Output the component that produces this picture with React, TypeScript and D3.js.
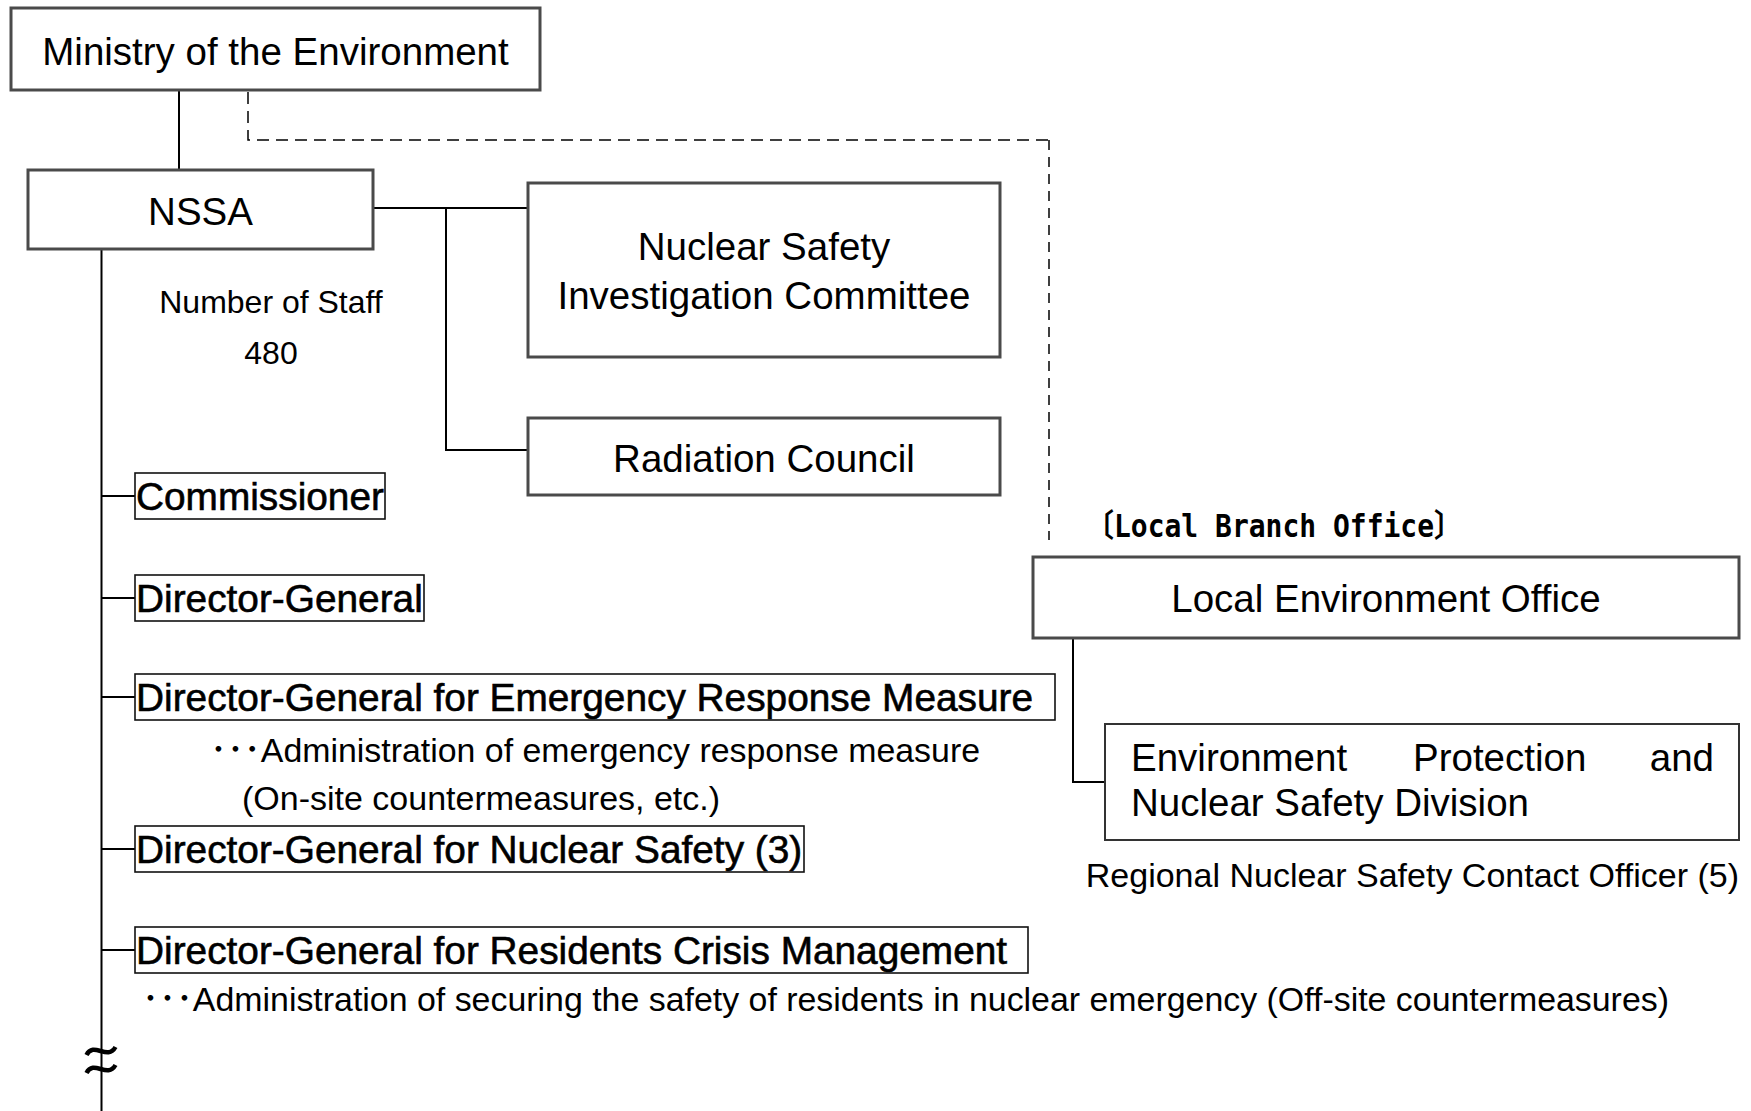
import React, { useEffect, useRef } from "react";
import * as d3 from "d3";

// labels of the chart
const topUnits = ["Ministry of the Environment", "NSSA"];
const councils = [["Nuclear Safety", "Investigation Committee"], ["Radiation Council"]];
const staffLabel = ["Number of Staff", "480"];
const directors = [
  "Commissioner",
  "Director-General",
  "Director-General for Emergency Response Measure",
  "Director-General for Nuclear Safety (3)",
  "Director-General for Residents Crisis Management",
];
const directorNotes = [
  [],
  [],
  ["･･･Administration of emergency response measure", "(On-site countermeasures, etc.)"],
  [],
  ["･･･Administration of securing the safety of residents in nuclear emergency (Off-site countermeasures)"],
];
const branchTitle = "〔Local Branch Office〕";
const branchOffice = "Local Environment Office";
const branchDivision = [["Environment", "Protection", "and"], ["Nuclear Safety Division"]];
const contactOfficer = "Regional Nuclear Safety Contact Officer (5)";

// layout
const W = 1751, H = 1111;
const FONT = "'Liberation Sans', Arial, 'Noto Sans CJK JP', sans-serif";
const boxes = {
  ministry: { x: 11, y: 8, w: 529, h: 82 },
  nssa: { x: 28, y: 170, w: 345, h: 79 },
  nsic: { x: 528, y: 183, w: 472, h: 174 },
  rc: { x: 528, y: 418, w: 472, h: 77 },
  leo: { x: 1033, y: 557, w: 706, h: 81 },
  div: { x: 1105, y: 724, w: 634, h: 116 },
};
const dirLeft = 135;
const dirTops = [473, 575, 674, 826, 927];
const dirRights = [385, 424, 1055, 804, 1028];
const dirH = 46;
const spineX = 101.5;
// [x, baseline, width]
const noteLayout = [[], [], [[210, 762, 770], [242, 810, 0]], [], [[142, 1011, 1527]]];

const App = () => {
  const svgRef = useRef<SVGSVGElement>(null);

  useEffect(() => {
    const svg = d3.select(svgRef.current);
    svg.selectAll("*").remove();
    svg.append("rect").attr("width", W).attr("height", H).attr("fill", "#fff");

    const g = svg.append("g").attr("font-family", FONT).attr("fill", "#000");

    const line = (pts: [number, number][], dash?: string, w = 2) => {
      g.append("path")
        .attr("d", d3.line()(pts))
        .attr("fill", "none")
        .attr("stroke", "#000")
        .attr("stroke-width", w)
        .attr("stroke-dasharray", dash || null);
    };

    const box = (b: any, stroke = "#4a4a4a", sw = 3) => {
      g.append("rect")
        .attr("x", b.x).attr("y", b.y).attr("width", b.w).attr("height", b.h)
        .attr("fill", "#fff").attr("stroke", stroke).attr("stroke-width", sw);
    };

    const text = (s: string, x: number, y: number, size: number, anchor = "start") => {
      return g.append("text")
        .attr("x", x).attr("y", y)
        .attr("font-size", size)
        .attr("text-anchor", anchor)
        .text(s);
    };

    // connectors
    line([[179, 90], [179, 170]]);
    line([[248, 92], [248, 140], [1049, 140]], "12 7", 1.5);
    line([[1049, 140], [1049, 540]], "10 7", 1.5);
    line([[373, 208], [528, 208]]);
    line([[446, 208], [446, 450], [528, 450]]);
    line([[spineX, 249], [spineX, H]]);
    line([[1073, 638], [1073, 782], [1105, 782]]);

    // top units
    box(boxes.ministry);
    text(topUnits[0], boxes.ministry.x + boxes.ministry.w / 2, 65, 38.5, "middle");
    box(boxes.nssa);
    text(topUnits[1], boxes.nssa.x + boxes.nssa.w / 2, 225, 38.5, "middle");

    box(boxes.nsic);
    text(councils[0][0], boxes.nsic.x + boxes.nsic.w / 2, 260, 38.5, "middle");
    text(councils[0][1], boxes.nsic.x + boxes.nsic.w / 2, 309, 38.5, "middle");
    box(boxes.rc);
    text(councils[1][0], boxes.rc.x + boxes.rc.w / 2, 472, 38.5, "middle");

    text(staffLabel[0], 271, 313, 32, "middle");
    text(staffLabel[1], 271, 364, 32, "middle");

    // directors
    directors.forEach((d, i) => {
      const top = dirTops[i];
      line([[spineX, top + dirH / 2], [dirLeft, top + dirH / 2]]);
      box({ x: dirLeft, y: top, w: dirRights[i] - dirLeft, h: dirH }, "#111", 1.6);
      text(d, dirLeft + 1, top + 37, 38.8)
        .attr("stroke", "#000")
        .attr("stroke-width", 0.6);
      directorNotes[i].forEach((n, j) => {
        const [nx, ny, nw] = noteLayout[i][j];
        const t = text(n, nx, ny, 34);
        if (nw) t.attr("textLength", nw).attr("lengthAdjust", "spacingAndGlyphs");
      });
    });

    // break mark on spine
    [1051, 1069].forEach((cy) => {
      g.append("path")
        .attr("d", `M${spineX - 15},${cy + 4} C${spineX - 8},${cy - 10} ${spineX + 6},${cy + 10} ${spineX + 14},${cy - 4}`)
        .attr("fill", "none").attr("stroke", "#000").attr("stroke-width", 4.5);
    });

    // local branch
    text(branchTitle, 1086, 537, 32)
      .attr("font-family", "'DejaVu Sans Mono', 'Noto Sans CJK JP', monospace")
      .attr("font-weight", "bold")
      .attr("textLength", 376)
      .attr("lengthAdjust", "spacingAndGlyphs");
    box(boxes.leo);
    text(branchOffice, boxes.leo.x + boxes.leo.w / 2, 612, 38.5, "middle");
    box(boxes.div, "#333", 2);
    text(branchDivision[0][0], 1131, 771, 38.5);
    text(branchDivision[0][1], 1413, 771, 38.5);
    text(branchDivision[0][2], 1714, 771, 38.5, "end");
    text(branchDivision[1][0], 1131, 816, 38.5);
    text(contactOfficer, 1739, 887, 34, "end");
  }, []);

  return (
    <svg
      ref={svgRef}
      width={W}
      height={H}
      style={{ position: "absolute", left: 0, top: 0, display: "block" }}
    ></svg>
  );
};

export default App;
